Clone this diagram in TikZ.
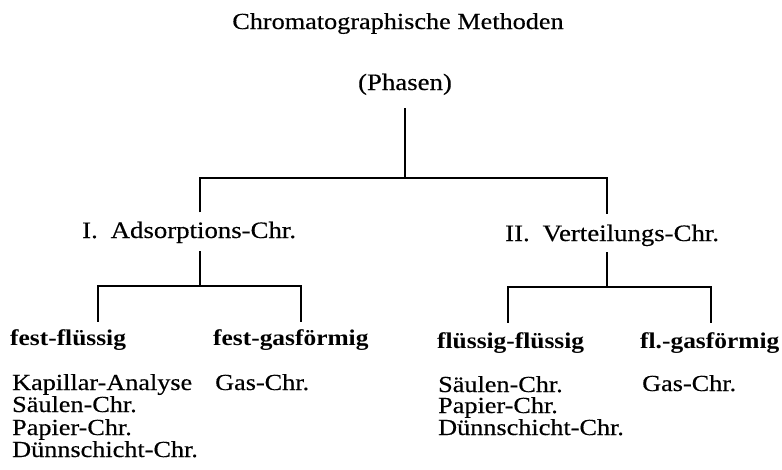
\documentclass[tikz,border=0pt]{standalone}
\usepackage{fontspec}
\setmainfont{Liberation Serif}[FakeStretch=1.13]
\newfontfamily\regfont{Liberation Serif}[FakeStretch=1.14, FakeBold=0.4]
\begin{document}
\begin{tikzpicture}[x=1pt,y=-1pt,
  txt/.style={anchor=base west, inner sep=0pt, font=\regfont\fontsize{23}{25}\selectfont},
  ctr/.style={anchor=base, inner sep=0pt, font=\regfont\fontsize{23.5}{25}\selectfont},
  bld/.style={anchor=base west, inner sep=0pt, font=\fontsize{22.5}{24}\selectfont\bfseries},
  tree/.style={line width=2.4pt, line join=miter}]
\useasboundingbox (0,0) rectangle (782,469);

% texts
\node[ctr, font=\regfont\fontsize{23}{25}\selectfont] (title)  at (398,29) {Chromatographische Methoden};
\node[ctr] (phasen) at (405,90) {(Phasen)};
\node[txt, font=\regfont\fontsize{23.5}{25}\selectfont] (ads) at (82,238) {I.\hspace{0.55em}Adsorptions-Chr.};
\node[txt, font=\regfont\fontsize{23.5}{25}\selectfont] (ver) at (505,241) {II.\hspace{0.55em}Verteilungs-Chr.};

\node[bld] (ff)  at (10,345)  {fest-flüssig};
\node[bld] (fg)  at (213,345) {fest-gasförmig};
\node[bld] (fl)  at (437,348) {flüssig-flüssig};
\node[bld] (flg) at (640,348) {fl.-gasförmig};

\node[txt] (k1) at (12,390) {Kapillar-Analyse};
\node[txt] (k2) at (12,412) {Säulen-Chr.};
\node[txt] (k3) at (12,435) {Papier-Chr.};
\node[txt] (k4) at (12,457) {Dünnschicht-Chr.};
\node[txt] (g1) at (215,390) {Gas-Chr.};

\node[txt] (r1) at (438,392) {Säulen-Chr.};
\node[txt] (r2) at (438,413) {Papier-Chr.};
\node[txt] (r3) at (438,435) {Dünnschicht-Chr.};
\node[txt] (g2) at (642,391) {Gas-Chr.};

% junctions
\coordinate (j0) at (405,178);
\coordinate (jA) at (200,178);
\coordinate (jB) at (607,178);
\coordinate (aJ) at (200,286);
\coordinate (aL) at (98,286);
\coordinate (aR) at (301,286);
\coordinate (vJ) at (607,287);
\coordinate (vL) at (508,287);
\coordinate (vR) at (711,287);

% connectors
\draw[tree, shorten <=13pt] (phasen.south) -- (j0);
\draw[tree, shorten <=9pt, shorten >=10pt] (jA |- ads.north) -- (jA) -- (jB) -- (jB |- ver.north);

\draw[tree, shorten <=8pt] (ads.south -| aJ) -- (aJ);
\draw[tree, shorten <=7pt, shorten >=7pt] (aL |- ff.north) -- (aL) -- (aR) -- (aR |- fg.north);

\draw[tree, shorten <=6pt] (ver.south -| vJ) -- (vJ);
\draw[tree, shorten <=9pt, shorten >=9pt] (vL |- fl.north) -- (vL) -- (vR) -- (vR |- flg.north);
\end{tikzpicture}
\end{document}
